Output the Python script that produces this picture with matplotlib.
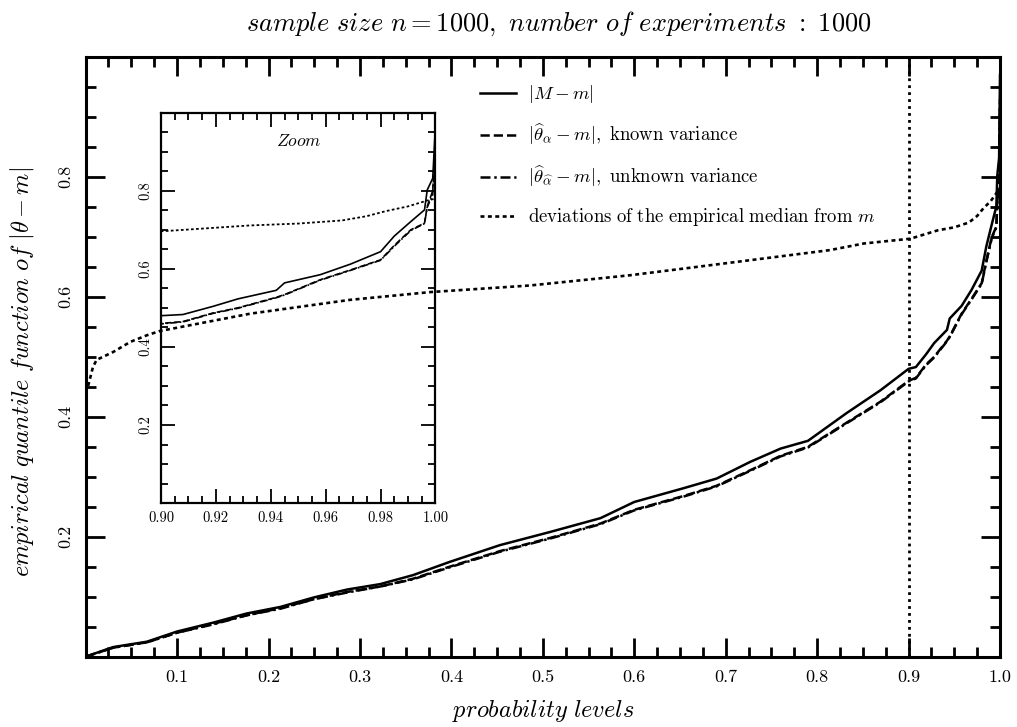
import matplotlib
matplotlib.use('Agg')
import matplotlib.pyplot as plt
from matplotlib.ticker import MultipleLocator, FormatStrFormatter

plt.rcParams['font.family'] = ['cmr10']
plt.rcParams['mathtext.fontset'] = 'cm'
plt.rcParams['axes.formatter.use_mathtext'] = True

# probability levels shared by the three estimator curves
p_levels = [0, 0.03, 0.067, 0.10, 0.14, 0.176, 0.213, 0.25, 0.286, 0.322, 0.358,
            0.398, 0.453, 0.508, 0.563, 0.60, 0.654, 0.69, 0.727, 0.76, 0.79,
            0.832, 0.869, 0.90, 0.908, 0.919, 0.928, 0.942, 0.945, 0.958, 0.969,
            0.98, 0.985, 0.991, 0.996, 0.997, 0.999, 1.0]

q_M = [0, 0.016, 0.025, 0.042, 0.057, 0.072, 0.083, 0.099, 0.112, 0.121, 0.136,
       0.158, 0.186, 0.208, 0.231, 0.258, 0.281, 0.297, 0.325, 0.347, 0.36,
       0.406, 0.444, 0.480, 0.483, 0.504, 0.523, 0.545, 0.564, 0.585, 0.612,
       0.644, 0.684, 0.721, 0.751, 0.802, 0.832, 0.97]

q_known = [0, 0.015, 0.024, 0.040, 0.055, 0.069, 0.081, 0.096, 0.108, 0.117, 0.130,
           0.150, 0.176, 0.198, 0.222, 0.245, 0.268, 0.285, 0.311, 0.335, 0.35,
           0.39, 0.425, 0.460, 0.465, 0.487, 0.500, 0.527, 0.534, 0.572, 0.597,
           0.623, 0.66, 0.70, 0.717, 0.76, 0.80, 0.93]

q_unknown = [0, 0.015, 0.024, 0.040, 0.054, 0.069, 0.080, 0.096, 0.107, 0.117, 0.129,
             0.149, 0.175, 0.197, 0.221, 0.244, 0.267, 0.284, 0.310, 0.334, 0.349,
             0.389, 0.424, 0.459, 0.464, 0.486, 0.499, 0.526, 0.533, 0.571, 0.596,
             0.622, 0.658, 0.698, 0.716, 0.758, 0.79, 0.92]

# empirical median deviations
p_med = [0, 0.003, 0.008, 0.012, 0.030, 0.049, 0.067, 0.081, 0.18, 0.289, 0.377,
         0.486, 0.595, 0.632, 0.705, 0.814, 0.851, 0.902, 0.932, 0.95, 0.966,
         0.975, 0.982, 0.99, 0.997, 1.0]
q_med = [0.44, 0.453, 0.483, 0.495, 0.508, 0.525, 0.536, 0.543, 0.572, 0.595, 0.608,
         0.619, 0.636, 0.643, 0.657, 0.678, 0.689, 0.697, 0.711, 0.716, 0.724,
         0.735, 0.748, 0.76, 0.775, 0.78]

labels = [r'$|M - m|$',
          r'$|\widehat{\theta}_{\alpha} - m|,\ \mathrm{known\ variance}$',
          r'$|\widehat{\theta}_{\widehat{\alpha}} - m|,\ \mathrm{unknown\ variance}$',
          r'$\mathrm{deviations\ of\ the\ empirical\ median\ from}\ m$']

dashdot = (0, (4, 1.5, 1, 1.5))
dotted = (0, (1.5, 1.3))

fig = plt.figure(figsize=(10.17, 7.27), dpi=100)
ax = fig.add_axes([0.0842, 0.0967, 0.8991, 0.8249])

ax.plot(p_levels, q_M, color='k', lw=1.8, label=labels[0])
ax.plot(p_levels, q_known, color='k', lw=1.8, ls='--', label=labels[1])
ax.plot(p_levels, q_unknown, color='k', lw=1.8, ls=dashdot, label=labels[2])
ax.plot(p_med, q_med, color='k', lw=1.9, ls=dotted, label=labels[3])
ax.axvline(0.9, color='k', lw=2, ls=(0, (1, 1.5)))

ax.set_xlim(0, 1.0)
ax.set_ylim(0, 1.0)
ax.set_xticks([0.1, 0.2, 0.3, 0.4, 0.5, 0.6, 0.7, 0.8, 0.9, 1.0])
ax.set_yticks([0.2, 0.4, 0.6, 0.8])
ax.xaxis.set_major_formatter(FormatStrFormatter('%.1f'))
ax.yaxis.set_major_formatter(FormatStrFormatter('%.1f'))
ax.xaxis.set_minor_locator(MultipleLocator(0.025))
ax.yaxis.set_minor_locator(MultipleLocator(0.05))
ax.tick_params(which='both', direction='in', top=True, right=True, labelsize=13)
ax.tick_params(which='major', length=14, width=2, pad=9)
ax.tick_params(which='minor', length=7, width=2)
for lab in ax.get_yticklabels():
    lab.set_rotation(90)
    lab.set_va('center')
for s in ax.spines.values():
    s.set_linewidth(2.2)

ax.set_xlabel(r'$\mathit{probability\ levels}$', fontsize=17.5, labelpad=10)
ax.set_ylabel(r'$\mathit{empirical\ quantile\ function\ of}\ |\theta - m|$',
              fontsize=17.5, labelpad=16, y=0.475)
ax.set_title(r'$\mathit{sample\ size}\ n = 1000,\ \mathit{number\ of\ experiments}\ :\ 1000$',
             fontsize=19, pad=19, x=0.517)

ax.legend(loc='upper left', bbox_to_anchor=(0.413, 0.984), frameon=False,
          fontsize=13.5, handlelength=1.9, handletextpad=0.65, labelspacing=0.9)

# zoom on the upper tail
axin = fig.add_axes([0.1583, 0.308, 0.2699, 0.537])
axin.patch.set_alpha(0)
axin.plot(p_levels, q_M, color='k', lw=1.2)
axin.plot(p_levels, q_known, color='k', lw=1.2, ls='--')
axin.plot(p_levels, q_unknown, color='k', lw=1.2, ls=dashdot)
axin.plot(p_med, q_med, color='k', lw=1.3, ls=dotted)
axin.set_xlim(0.9, 1.0)
axin.set_ylim(0, 1.0)
axin.set_xticks([0.90, 0.92, 0.94, 0.96, 0.98, 1.00])
axin.set_yticks([0.2, 0.4, 0.6, 0.8])
axin.xaxis.set_major_formatter(FormatStrFormatter('%.2f'))
axin.yaxis.set_major_formatter(FormatStrFormatter('%.1f'))
axin.xaxis.set_minor_locator(MultipleLocator(0.005))
axin.yaxis.set_minor_locator(MultipleLocator(0.05))
axin.tick_params(which='both', direction='in', top=True, right=True, labelsize=10.5)
axin.tick_params(which='major', length=10, width=1.3, pad=6)
axin.tick_params(which='minor', length=5, width=1.3)
for lab in axin.get_yticklabels():
    lab.set_rotation(90)
    lab.set_va('center')
for s in axin.spines.values():
    s.set_linewidth(1.6)
axin.text(0.5, 0.927, r'$\mathit{Zoom}$', transform=axin.transAxes,
          ha='center', va='center', fontsize=12.5)

fig.savefig('out.png', dpi=100)
